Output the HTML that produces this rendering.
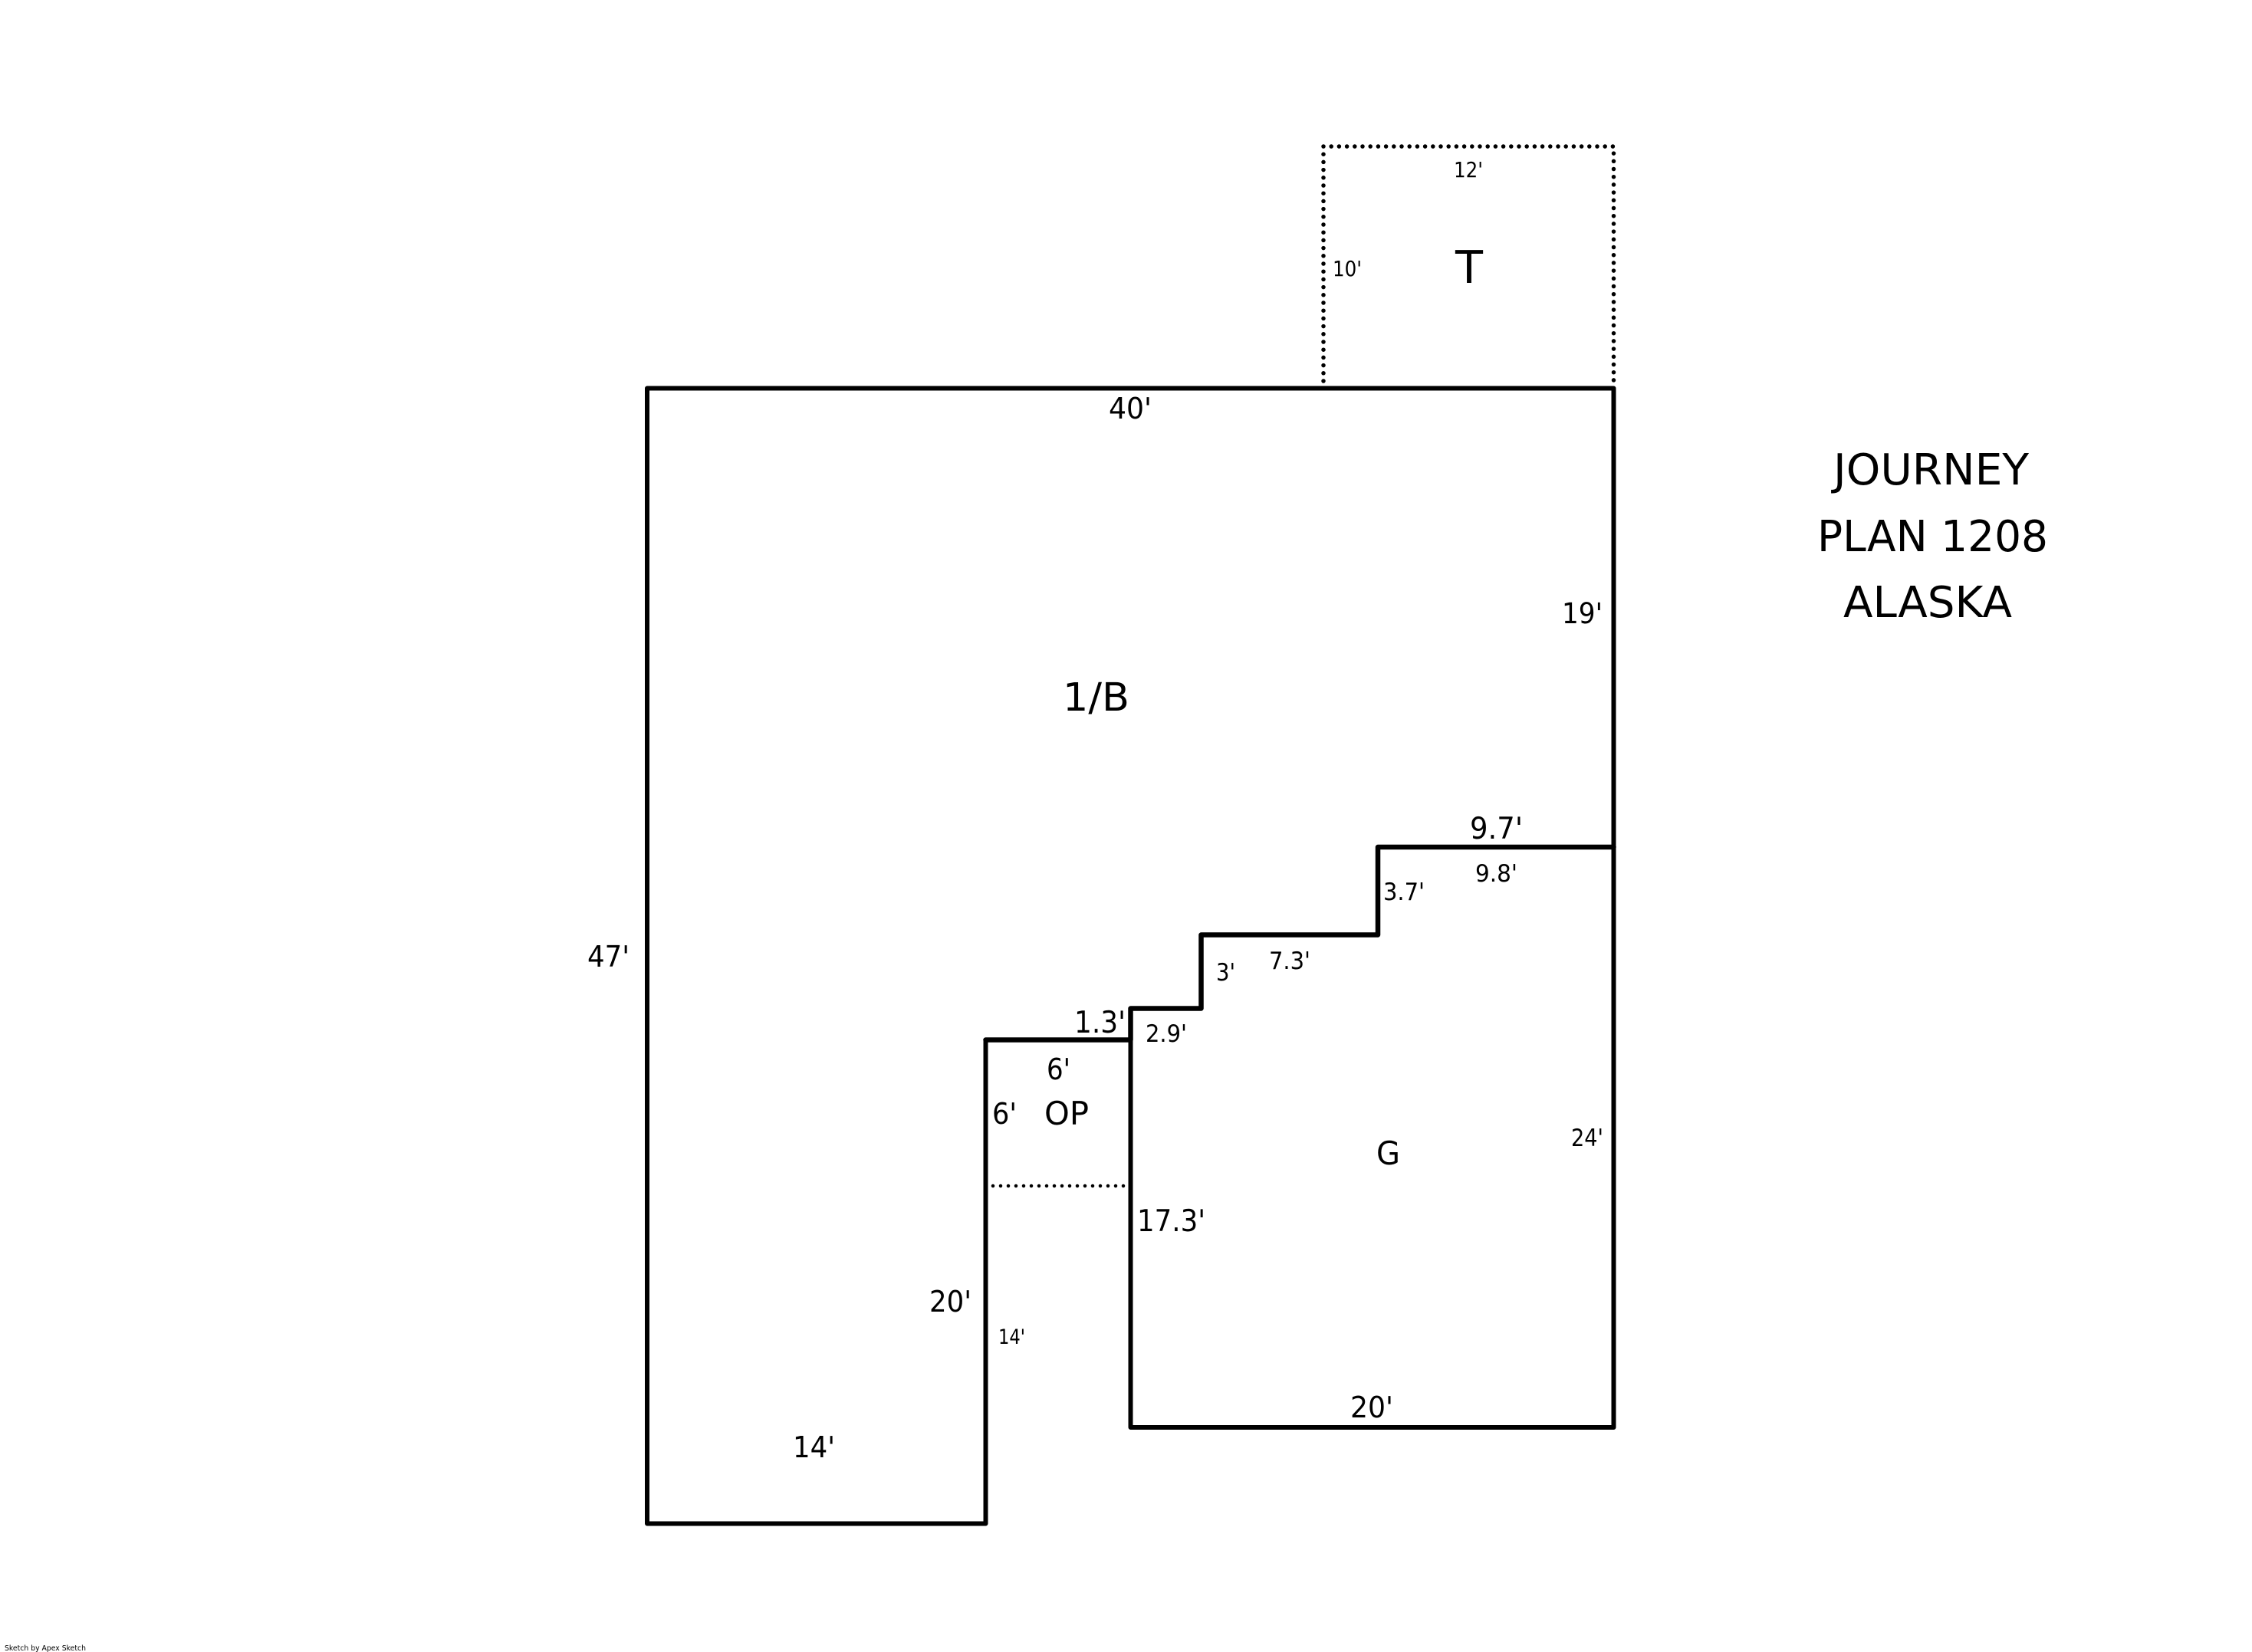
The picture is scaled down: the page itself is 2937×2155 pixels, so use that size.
<!DOCTYPE html>
<html><head><meta charset="utf-8"><style>
html,body{margin:0;padding:0;background:#fff}
svg{display:block}
text{font-family:"DejaVu Sans","Liberation Sans",sans-serif;fill:#000}
</style></head><body>
<svg xmlns="http://www.w3.org/2000/svg" width="2937" height="2155" viewBox="0 0 2937 2155">
<rect width="2937" height="2155" fill="#fff"/>
<g fill="none" stroke="#000" stroke-linecap="round" stroke-linejoin="round">
<path d="M1726 191H2104.5V503M1726 191V500" stroke-width="5.5" stroke-dasharray="0 10.2"/>
<path d="M1295 1547H1472" stroke-width="4.5" stroke-dasharray="0 10"/>
<path d="M844 506.5H2104.5V1862H1474.5V1356.5H1285.5V1987.5H844Z" stroke-width="6"/>
<path d="M1285.5 1356.5H1474.5V1315.5H1566.5V1219.5H1797V1105H2104.5" stroke-width="6.5"/>
</g>
<g>
<text x="1896" y="231" font-size="28" textLength="38" lengthAdjust="spacingAndGlyphs">12'</text>
<text x="1738" y="360" font-size="28" textLength="38" lengthAdjust="spacingAndGlyphs">10'</text>
<text x="1898" y="369" font-size="59" textLength="36" lengthAdjust="spacingAndGlyphs">T</text>
<text x="1446" y="546" font-size="38" textLength="56" lengthAdjust="spacingAndGlyphs">40'</text>
<text x="2037" y="813" font-size="37" textLength="53" lengthAdjust="spacingAndGlyphs">19'</text>
<text x="1386" y="927" font-size="51" textLength="87" lengthAdjust="spacingAndGlyphs">1/B</text>
<text x="1917" y="1094" font-size="39" textLength="69" lengthAdjust="spacingAndGlyphs">9.7'</text>
<text x="1924" y="1150" font-size="31" textLength="55" lengthAdjust="spacingAndGlyphs">9.8'</text>
<text x="1804" y="1174" font-size="31" textLength="54" lengthAdjust="spacingAndGlyphs">3.7'</text>
<text x="1655" y="1264" font-size="31" textLength="54" lengthAdjust="spacingAndGlyphs">7.3'</text>
<text x="1586" y="1279" font-size="31" textLength="25" lengthAdjust="spacingAndGlyphs">3'</text>
<text x="1401" y="1347" font-size="39" textLength="67" lengthAdjust="spacingAndGlyphs">1.3'</text>
<text x="1494" y="1359" font-size="31" textLength="54" lengthAdjust="spacingAndGlyphs">2.9'</text>
<text x="1365" y="1408" font-size="38" textLength="31" lengthAdjust="spacingAndGlyphs">6'</text>
<text x="1294" y="1466" font-size="38" textLength="32" lengthAdjust="spacingAndGlyphs">6'</text>
<text x="1362" y="1467" font-size="42" textLength="58" lengthAdjust="spacingAndGlyphs">OP</text>
<text x="1795" y="1519" font-size="42" textLength="31" lengthAdjust="spacingAndGlyphs">G</text>
<text x="2049" y="1495" font-size="31" textLength="42" lengthAdjust="spacingAndGlyphs">24'</text>
<text x="1483" y="1606" font-size="39" textLength="89" lengthAdjust="spacingAndGlyphs">17.3'</text>
<text x="1212" y="1711" font-size="38" textLength="55" lengthAdjust="spacingAndGlyphs">20'</text>
<text x="1302" y="1753" font-size="27" textLength="35" lengthAdjust="spacingAndGlyphs">14'</text>
<text x="1034" y="1901" font-size="38" textLength="55" lengthAdjust="spacingAndGlyphs">14'</text>
<text x="766" y="1261" font-size="38" textLength="55" lengthAdjust="spacingAndGlyphs">47'</text>
<text x="1761" y="1849" font-size="38" textLength="56" lengthAdjust="spacingAndGlyphs">20'</text>
<text x="2391" y="632" font-size="56" textLength="255" lengthAdjust="spacingAndGlyphs">JOURNEY</text>
<text x="2370" y="719" font-size="56" textLength="301" lengthAdjust="spacingAndGlyphs">PLAN 1208</text>
<text x="2404" y="805" font-size="56" textLength="220" lengthAdjust="spacingAndGlyphs">ALASKA</text>
<text x="6" y="2153" font-size="10" textLength="106" lengthAdjust="spacingAndGlyphs">Sketch by Apex Sketch</text>
</g>
</svg>
</body></html>
